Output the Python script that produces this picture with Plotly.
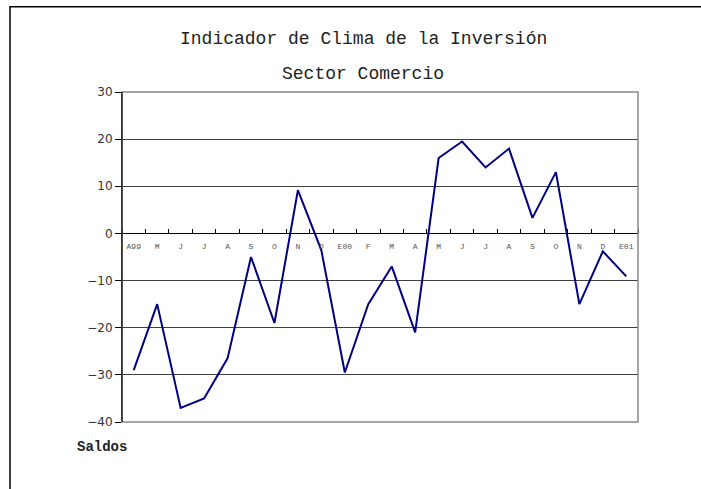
import plotly.graph_objects as go

months = ["A99", "M", "J", "J", "A", "S", "O", "N", "D", "E00", "F", "M",
          "A", "M", "J", "J", "A", "S", "O", "N", "D", "E01"]
saldos = [-29, -15, -37, -35, -26.5, -5, -19, 9.2, -3.6, -29.5, -15, -7,
          -21, 16, 19.5, 14, 18, 3.3, 13, -15, -3.8, -9.1]
y_ticks = [30, 20, 10, 0, -10, -20, -30, -40]
title_line1 = "Indicador de Clima de la Inversión"
title_line2 = "Sector Comercio"
y_label = "Saldos"

W, H = 701, 489
L, T, R, B = 122, 91.5, 638, 422
pw, ph = R - L, B - T

def px_x(x):
    return (x - L) / pw

def px_y(y):
    return (B - y) / ph

xs = list(range(len(months)))

fig = go.Figure()
fig.add_trace(go.Scatter(
    x=xs, y=saldos, mode="lines",
    line=dict(color="#000080", width=2),
    hoverinfo="skip", showlegend=False,
))

ymin, ymax = -40, 30
fig.update_layout(
    width=W, height=H,
    margin=dict(l=L, t=T, r=W - R, b=H - B),
    paper_bgcolor="white", plot_bgcolor="white",
    showlegend=False,
    xaxis=dict(
        range=[-0.5, len(months) - 0.5],
        tickvals=xs, ticktext=months,
        ticks="", showgrid=False, zeroline=False,
        anchor="free", position=(0 - ymin) / (ymax - ymin),
        showline=True, linecolor="#000000", linewidth=1,
        ticklabelstandoff=5,
        tickfont=dict(family="Liberation Mono", size=8, color="#555555"),
        minor=dict(tickvals=[i - 0.5 for i in range(len(months) + 1)],
                   ticks="inside", ticklen=4, tickcolor="#000000", showgrid=False),
        fixedrange=True,
    ),
    yaxis=dict(
        range=[ymin, ymax], tickvals=y_ticks,
        ticks="outside", ticklen=6, tickcolor="#000000",
        showgrid=True, gridcolor="#404040", gridwidth=1,
        zeroline=False, showline=True, linecolor="#000000", linewidth=1,
        tickfont=dict(family="DejaVu Sans", size=12, color="#333333"),
        fixedrange=True,
    ),
    shapes=[
        dict(type="rect", xref="paper", yref="paper", x0=0, x1=1, y0=0, y1=1,
             line=dict(color="#888888", width=1.5), layer="above"),
        dict(type="line", xref="paper", yref="paper", x0=0, x1=0, y0=0, y1=1,
             line=dict(color="#000000", width=1), layer="above"),
        dict(type="rect", xref="paper", yref="paper",
             x0=px_x(10), x1=px_x(W + 30), y0=px_y(H + 30), y1=px_y(6),
             line=dict(color="#000000", width=1.5), layer="below"),
    ],
    annotations=[
        dict(text=title_line1, xref="paper", yref="paper",
             x=px_x(363), y=px_y(38), showarrow=False,
             xanchor="center", yanchor="middle",
             font=dict(family="Liberation Mono", size=18, color="#222222")),
        dict(text=title_line2, xref="paper", yref="paper",
             x=px_x(363), y=px_y(73), showarrow=False,
             xanchor="center", yanchor="middle",
             font=dict(family="Liberation Mono", size=18, color="#222222")),
        dict(text="<b>" + y_label + "</b>", xref="paper", yref="paper",
             x=px_x(75), y=px_y(447), showarrow=False,
             xanchor="left", yanchor="middle",
             font=dict(family="Liberation Mono", size=14, color="#222222")),
    ],
)

fig.write_html("out.html", config={"displayModeBar": False},
               post_script="document.body.style.margin='0';document.body.style.overflow='hidden';")
